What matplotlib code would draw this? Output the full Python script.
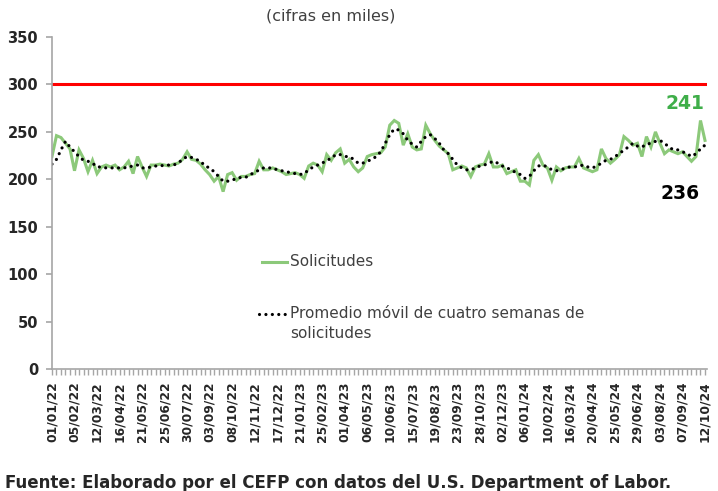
import matplotlib
matplotlib.use("Agg")
import matplotlib.pyplot as plt
from matplotlib.lines import Line2D

# fechas de las etiquetas (cada 5 semanas)
etiquetas = ['01/01/22', '05/02/22', '12/03/22', '16/04/22', '21/05/22', '25/06/22',
             '30/07/22', '03/09/22', '08/10/22', '12/11/22', '17/12/22', '21/01/23',
             '25/02/23', '01/04/23', '06/05/23', '10/06/23', '15/07/23', '19/08/23',
             '23/09/23', '28/10/23', '02/12/23', '06/01/24', '10/02/24', '16/03/24',
             '20/04/24', '25/05/24', '29/06/24', '03/08/24', '07/09/24', '12/10/24']

# solicitudes semanales (miles)
solicitudes = [224, 246, 244, 238, 232, 209, 231, 222, 208, 220,
               206, 213, 215, 213, 215, 210, 213, 219, 206, 224,
               213, 203, 215, 215, 216, 215, 214, 216, 217, 221,
               229, 221, 220, 216, 210, 205, 198, 203, 187, 205,
               207, 199, 203, 203, 205, 206, 219, 210, 210, 212,
               210, 208, 205, 206, 207, 205, 201, 214, 217, 215,
               208, 226, 220, 228, 232, 217, 221, 213, 208, 212,
               224, 226, 227, 228, 234, 257, 262, 259, 236, 248,
               234, 231, 232, 257, 248, 241, 235, 231, 227, 210,
               212, 214, 212, 203, 213, 215, 216, 227, 213, 213,
               215, 206, 208, 210, 198, 198, 194, 220, 226, 215,
               212, 199, 213, 209, 212, 213, 213, 222, 212, 210,
               208, 210, 232, 222, 217, 221, 226, 245, 241, 236,
               238, 224, 245, 234, 250, 238, 227, 231, 229, 227,
               229, 224, 219, 224, 262, 241]

# promedio movil de cuatro semanas (miles)
promedio = [216, 221, 231, 240, 234, 229, 224, 220, 219, 217,
            213, 213, 212, 212, 212, 212, 212, 213, 214, 215,
            212, 212, 213, 214, 214, 215, 215, 215, 217, 221,
            224, 223, 221, 219, 214, 212, 208, 203, 198, 198,
            199, 201, 202, 202, 205, 207, 210, 212, 212, 212,
            210, 209, 208, 207, 206, 205, 206, 210, 213, 215,
            217, 220, 222, 226, 226, 224, 224, 221, 217, 217,
            219, 221, 224, 229, 238, 247, 253, 252, 248, 241,
            237, 234, 240, 245, 247, 243, 238, 231, 227, 221,
            215, 212, 210, 210, 212, 214, 215, 217, 219, 217,
            214, 212, 210, 207, 205, 201, 203, 209, 214, 215,
            213, 210, 209, 210, 212, 213, 213, 214, 215, 213,
            212, 214, 217, 220, 221, 224, 227, 231, 234, 238,
            235, 234, 237, 238, 240, 241, 238, 234, 231, 231,
            229, 227, 224, 227, 232, 236]

umbral = 300

verde = '#8cc97a'
gris = '#a6a6a6'
punteado = (0, (0.01, 2.0))

fig = plt.figure(figsize=(7.18, 4.91), dpi=100)
ax = fig.add_axes([0.0724, 0.2485, 0.912, 0.6761])

semanas = list(range(len(solicitudes)))
ax.plot(semanas, solicitudes, color=verde, lw=2.2, solid_joinstyle='miter')
ax.plot(semanas, promedio, color='black', lw=2.3, linestyle=punteado,
        dash_capstyle='round')
ax.axhline(umbral, color='#ff0000', lw=2.2)

ax.set_xlim(0, len(solicitudes) - 0.6)
ax.set_ylim(0, 350)
ax.set_yticks(range(0, 351, 50))
ax.set_xticks(range(0, len(solicitudes), 5))
ax.set_xticks(semanas, minor=True)
ax.set_xticklabels(etiquetas, rotation=90, fontsize=8.8, fontweight='bold', color='#262626')
for t in ax.get_yticklabels():
    t.set_fontweight('bold')
    t.set_fontsize(10.5)
    t.set_color('#262626')

for lado in ['top', 'right']:
    ax.spines[lado].set_visible(False)
ax.spines['left'].set_color(gris)
ax.spines['bottom'].set_color(gris)
ax.spines['left'].set_linewidth(1.2)
ax.spines['bottom'].set_linewidth(1.2)
ax.tick_params(axis='y', color=gris, length=4, width=1.2, pad=6)
ax.tick_params(axis='x', which='both', color=gris, length=4, width=1, pad=5)

# valores finales
ax.text(140.6, 280, '241', color='#3fae49', fontsize=13.5, fontweight='bold', ha='center', va='center')
ax.text(139.5, 185, '236', color='black', fontsize=13.5, fontweight='bold', ha='center', va='center')

# leyenda hecha a mano
fig.add_artist(Line2D([262 / 718, 287 / 718], [1 - 262 / 491] * 2, color=verde, lw=2.2))
fig.text(290 / 718, 1 - 262 / 491, 'Solicitudes', ha='left', va='center',
         fontsize=11, color='#404040')
fig.add_artist(Line2D([259 / 718, 285 / 718], [1 - 314 / 491] * 2, color='black', lw=2.3,
                      linestyle=punteado, dash_capstyle='round'))
fig.text(290 / 718, 1 - 313 / 491, 'Promedio móvil de cuatro semanas de', ha='left',
         va='center', fontsize=11, color='#404040')
fig.text(290 / 718, 1 - 334 / 491, 'solicitudes', ha='left', va='center',
         fontsize=11, color='#404040')

fig.text(0.46, 0.968, '(cifras en miles)', ha='center', va='center', fontsize=11.5, color='#404040')
fig.text(0.007, 0.016, 'Fuente: Elaborado por el CEFP con datos del U.S. Department of Labor.',
         ha='left', va='center', fontsize=12, fontweight='bold', color='#262626')

fig.savefig('out.png', dpi=100)
